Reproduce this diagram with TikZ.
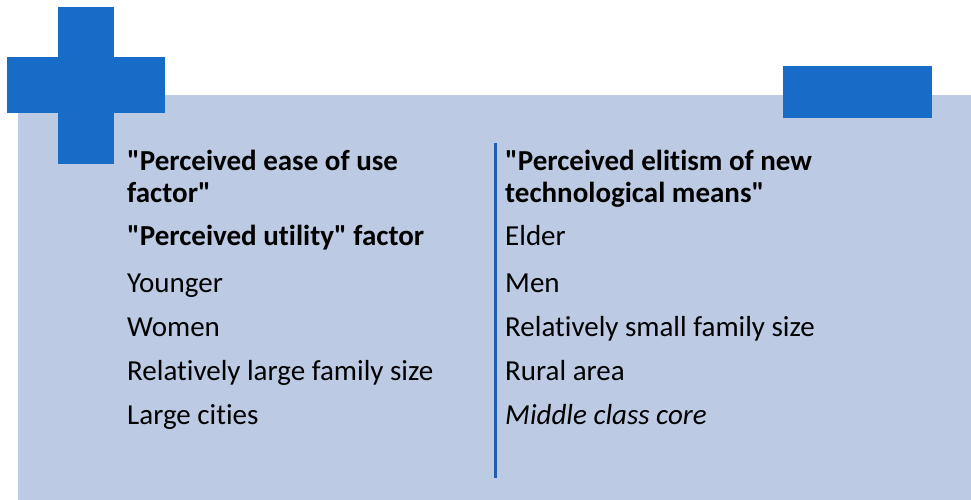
\documentclass[tikz,border=0pt]{standalone}
\usepackage{fontspec}
\setmainfont[Ligatures=NoCommon]{Carlito}
\definecolor{panel}{RGB}{189,202,227}
\definecolor{signblue}{RGB}{22,108,198}
\definecolor{rule}{RGB}{30,94,176}
\newcommand{\q}{\textquotedbl}
\begin{document}
\begin{tikzpicture}[x=1pt,y=-1pt,
  item/.style={anchor=base west,inner sep=0pt,font=\fontsize{29}{32}\selectfont,align=left},
  head/.style={item,font=\fontsize{29}{32}\selectfont\bfseries}]
\useasboundingbox (0,0) rectangle (971,500);
\fill[panel] (18,95) rectangle (971,500);
\fill[signblue] (58,7) rectangle (114,164);
\fill[signblue] (7,57) rectangle (165,113);
\fill[signblue] (783,66) rectangle (932,118);
\coordinate (ltop) at (495.5,143);
\coordinate (lbot) at (495.5,478);
\draw[rule,line width=2.2pt] (ltop) -- (lbot);
% left column (multi-line nodes: base = last line)
\node[head] (l1) at (127,202) {\q Perceived ease of use\\factor\q};
\node[head] (l2) at (127,245) {\q Perceived utility\q{} factor};
\node[item] (l3) at (127,292) {Younger};
\node[item] (l4) at (127,336) {Women};
\node[item] (l5) at (127,380) {Relatively large family size};
\node[item] (l6) at (127,424) {Large cities};
% right column
\node[head] (r1) at (505,202) {\q Perceived elitism of new\\technological means\q};
\node[item] (r2) at (505,245) {Elder};
\node[item] (r3) at (505,292) {Men};
\node[item] (r4) at (505,336) {Relatively small family size};
\node[item] (r5) at (505,380) {Rural area};
\node[item,font=\fontsize{29}{32}\selectfont\itshape] (r6) at (505,424) {Middle class core};
\end{tikzpicture}
\end{document}
